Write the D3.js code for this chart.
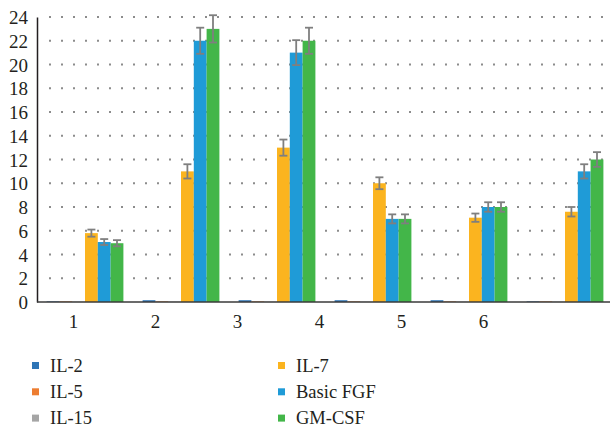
<!DOCTYPE html>
<html>
<head>
<meta charset="utf-8">
<script src="https://cdn.jsdelivr.net/npm/d3@7"></script>
<style>
  body { margin: 0; background: #fff; font-family: "Liberation Serif", serif; }
  svg text { font-family: "Liberation Serif", serif !important; }
</style>
</head>
<body>
<div id="chart"></div>
<script>
// categories and series
const groups = ["1", "2", "3", "4", "5", "6"];
const seriesNames = ["IL-2", "IL-5", "IL-15", "IL-7", "Basic FGF", "GM-CSF"];
const seriesColors = ["#2e75b6", "#ed7d31", "#a5a5a5", "#fbb41f", "#1f9bd7", "#43b649"];

// values per series, one per group
const il2 = [0.05, 0.15, 0.15, 0.15, 0.15, 0.05];
const il5 = [0.05, 0.05, 0.05, 0.05, 0.05, 0.05];
const il15 = [0.02, 0.02, 0.02, 0.02, 0.02, 0.02];
const il7 = [5.8, 11, 13, 10, 7.1, 7.6];
const fgf = [5.05, 22, 21, 7, 8, 11];
const gmcsf = [4.95, 23, 22, 7, 8, 12];

// error bars (+/-), null = none drawn
const il7Err = [0.3, 0.6, 0.68, 0.5, 0.35, 0.4];
const fgfErr = [0.25, 1.1, 1.05, 0.38, 0.4, 0.6];
const gmcsfErr = [0.26, 1.15, 1.1, 0.38, 0.4, 0.62];

const yTicks = [0, 2, 4, 6, 8, 10, 12, 14, 16, 18, 20, 22, 24];

const values = [il2, il5, il15, il7, fgf, gmcsf];
const errors = [null, null, null, il7Err, fgfErr, gmcsfErr];

const INK = "#231f20";

const width = 610, height = 428;
const svg = d3.select("#chart").append("svg")
  .attr("width", width)
  .attr("height", height)
  .style("font-family", "Liberation Serif, serif");

const mLeft = 37, mTop = 17, mBottom = 302, mRight = 610;

const y = d3.scaleLinear().domain([0, 24]).range([mBottom, mTop]);

const x0 = d3.scaleBand().domain(groups).range([mLeft, mLeft + 576])
  .paddingInner(0.2).paddingOuter(0.1);
const x1 = d3.scaleBand().domain(seriesNames).range([0, x0.bandwidth()]);

// category labels sit on their own spacing in the source picture
const xLabel = d3.scalePoint().domain(groups).range([73, 483]);

// dotted gridlines
svg.append("g").attr("class", "grid")
  .selectAll("line")
  .data(yTicks.filter(d => d > 0))
  .join("line")
  .attr("x1", mLeft + 12)
  .attr("x2", 606)
  .attr("y1", d => y(d))
  .attr("y2", d => y(d))
  .attr("stroke", "#8c8c8c")
  .attr("stroke-width", 2)
  .attr("stroke-dasharray", "2,10");

// bars
const bars = svg.append("g").attr("class", "bars");
seriesNames.forEach((name, si) => {
  bars.append("g")
    .selectAll("rect")
    .data(values[si])
    .join("rect")
    .attr("x", (d, i) => x0(groups[i]) + x1(name))
    .attr("width", x1.bandwidth())
    .attr("y", d => y(d))
    .attr("height", d => y(0) - y(d))
    .attr("fill", seriesColors[si]);
});

// error bars
const errG = svg.append("g").attr("class", "errors")
  .attr("stroke", "#7f7f7f")
  .attr("stroke-width", 1.8)
  .attr("fill", "none");
seriesNames.forEach((name, si) => {
  if (!errors[si]) return;
  errors[si].forEach((e, i) => {
    const cx = x0(groups[i]) + x1(name) + x1.bandwidth() / 2;
    const v = values[si][i];
    errG.append("line").attr("x1", cx).attr("x2", cx)
      .attr("y1", y(v + e)).attr("y2", y(v - e));
    [v + e, v - e].forEach(t => {
      errG.append("line").attr("x1", cx - 4).attr("x2", cx + 4)
        .attr("y1", y(t)).attr("y2", y(t));
    });
  });
});

// axes
const yAxis = svg.append("g")
  .attr("transform", `translate(${mLeft},0)`)
  .call(d3.axisLeft(y).tickValues(yTicks).tickSize(0).tickPadding(9));
yAxis.attr("font-family", null);
yAxis.select(".domain").attr("stroke", INK).attr("stroke-width", 1.5);
yAxis.selectAll("text")
  .attr("font-size", 19)
  .attr("fill", INK).attr("dy", "0.35em");

const xAxis = svg.append("g")
  .attr("transform", `translate(0,${mBottom})`)
  .call(d3.axisBottom(xLabel).tickSize(0).tickPadding(13));
xAxis.attr("font-family", null);
xAxis.select(".domain").remove();
xAxis.selectAll("text")
  .attr("font-size", 19).attr("fill", INK);

svg.append("line")
  .attr("x1", mLeft).attr("x2", mRight)
  .attr("y1", mBottom).attr("y2", mBottom)
  .attr("stroke", "#3a3a3a").attr("stroke-width", 1.5);

// legend: two columns, three rows
const legend = svg.append("g").attr("class", "legend");
seriesNames.forEach((name, i) => {
  const col = Math.floor(i / 3), row = i % 3;
  const lx = col === 0 ? 32 : 278;
  const ly = 365.5 + row * 26.3;
  const item = legend.append("g").attr("transform", `translate(${lx},${ly})`);
  item.append("rect")
    .attr("x", 0).attr("y", -3.5)
    .attr("width", 7).attr("height", 7)
    .attr("fill", seriesColors[i]);
  item.append("text")
    .attr("x", 18).attr("y", 0)
    .attr("dy", "0.34em")
    .attr("font-size", 18.5)
    .attr("fill", INK)
    .text(name);
});
</script>
</body>
</html>
